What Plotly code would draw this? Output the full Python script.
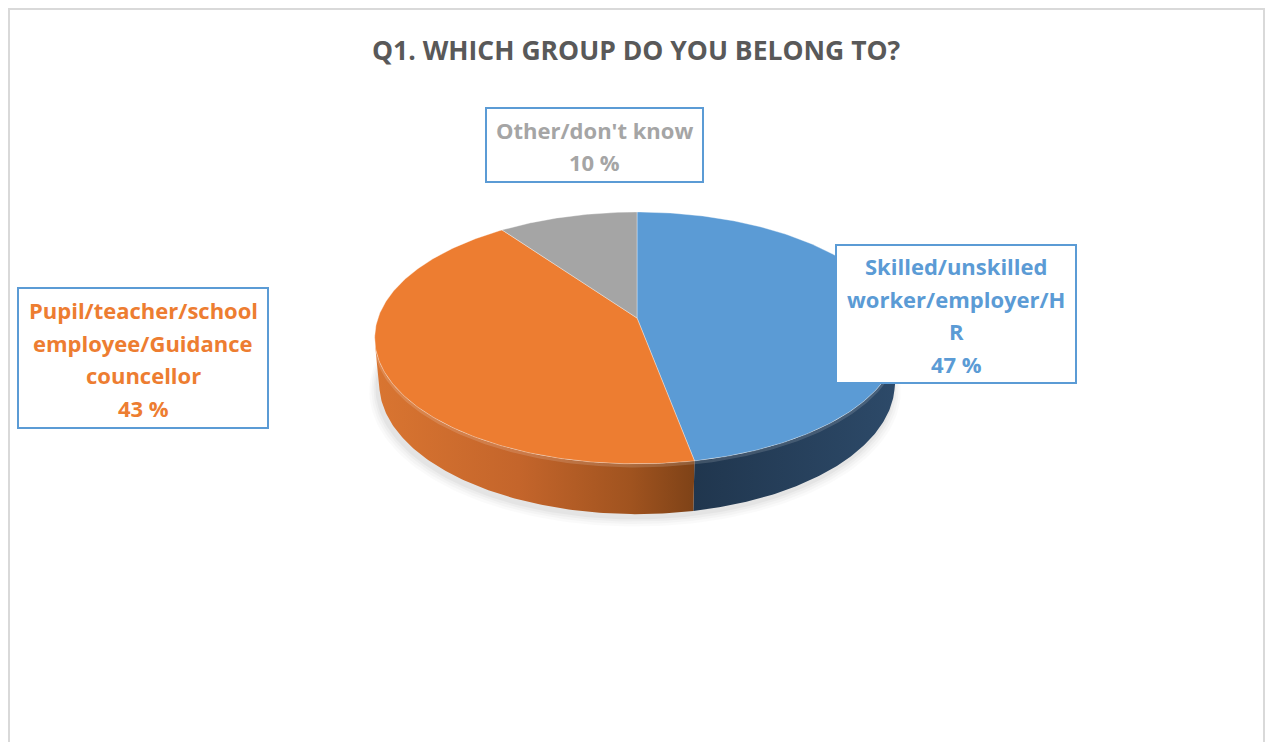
import numpy as np
import plotly.graph_objects as go

# ---- data -------------------------------------------------------------
title_text = "Q1. WHICH GROUP DO YOU BELONG TO?"
categories = [
    "Skilled/unskilled worker/employer/HR",
    "Pupil/teacher/school employee/Guidance councellor",
    "Other/don't know",
]
shares = [47, 43, 10]
# category names as wrapped inside the label boxes
label_wrapped = [
    ["Skilled/unskilled", "worker/employer/H", "R"],
    ["Pupil/teacher/school", "employee/Guidance", "councellor"],
    ["Other/don't know"],
]

# ---- styling ----------------------------------------------------------
W, H = 1267, 742
top_colors = ["#5B9BD5", "#ED7D31", "#A5A5A5"]
text_colors = ["#5B9BD5", "#ED7D31", "#A5A5A5"]
wall_scales = [
    [[0, "#20364E"], [1, "#2D4A69"]],
    [[0, "#D97531"], [0.45, "#C4652B"], [0.8, "#A0531F"], [1, "#7E4217"]],
    [[0, "#6E6E6E"], [1, "#5A5A5A"]],
]
FONT = "Open Sans"
# label boxes: (x0, y0, x1, y1) in page pixels, and line pitch
boxes = [(836, 245, 1076, 383), (18, 288, 268, 428), (486, 108, 703, 182)]
line_pitch = 32.5

# ---- 3D pie projection (perspective view of a tilted disc) -----------
CX, CY = 637.0, 318.0      # screen position of the pie centre
half_width = 259.0         # projected radius at mid-depth
tilt = np.radians(28.3)    # elevation of the viewpoint
persp = 0.18               # radius / camera distance
thick = 0.2                # disc thickness (in radii)
L = 1.0 / persp
Fp = half_width * L


def project(x, y, z):
    depth = L - y * np.sin(tilt) - z * np.cos(tilt)
    sx = CX + Fp * x / depth
    sy = CY - Fp * (y * np.cos(tilt) - z * np.sin(tilt)) / depth
    return sx, sy


def rim(theta_deg, y, r=1.0):
    t = np.radians(theta_deg)
    return project(r * np.sin(t), y * np.ones_like(t), -r * np.cos(t))


total = float(sum(shares))
bounds = np.concatenate([[0.0], np.cumsum(shares) / total * 360.0])

# visible part of the side wall (silhouette of the cylinder)
z_sil = 1.0 / (L * np.cos(tilt))
th_sil = np.degrees(np.arccos(-z_sil))
vis_lo, vis_hi = th_sil, 360.0 - th_sil

fig = go.Figure()

# soft shadow under the disc
full = np.linspace(0, 360, 241)
for r, dy, alpha in [(1.03, 7, 0.018), (1.022, 6, 0.022), (1.014, 5, 0.028), (1.007, 4, 0.035)]:
    sx_, sy_ = rim(full, -thick, r)
    fig.add_trace(go.Scatter(
        x=sx_ - 2, y=sy_ + dy, mode="lines", line=dict(width=0),
        fill="toself", fillcolor=f"rgba(0,0,0,{alpha})",
        hoverinfo="skip", showlegend=False,
    ))

# side walls
for i in range(len(shares)):
    a0, a1 = max(bounds[i], vis_lo), min(bounds[i + 1], vis_hi)
    if a1 <= a0:
        continue
    th = np.linspace(a0, a1, 120)
    tx, ty = rim(th, 0.0)
    bx, by = rim(th[::-1], -thick)
    xs = np.concatenate([tx, bx, tx[:1]])
    ys = np.concatenate([ty, by, ty[:1]])
    fig.add_trace(go.Scatter(
        x=xs, y=ys, mode="lines", line=dict(width=0),
        fill="toself",
        fillgradient=dict(type="horizontal", colorscale=wall_scales[i]),
        hoverinfo="skip", showlegend=False,
    ))
    # light rim along the upper edge of the wall
    fig.add_trace(go.Scatter(
        x=tx, y=ty + 2, mode="lines",
        line=dict(width=3, color="rgba(255,255,255,0.14)"),
        hoverinfo="skip", showlegend=False,
    ))

# top faces
for i in range(len(shares)):
    th = np.linspace(bounds[i], bounds[i + 1], 200)
    ax, ay = rim(th, 0.0)
    px, py = project(0.0, 0.0, 0.0)
    xs = np.concatenate([[px], ax, [px]])
    ys = np.concatenate([[py], ay, [py]])
    fig.add_trace(go.Scatter(
        x=xs, y=ys, mode="lines", line=dict(width=0.6, color="rgba(255,255,255,0.6)"),
        fill="toself", fillcolor=top_colors[i],
        name=categories[i], hoverinfo="name", showlegend=False,
    ))

# ---- labels -----------------------------------------------------------
shapes = [
    dict(type="rect", xref="x", yref="y", x0=9, y0=9, x1=1264, y1=760,
         line=dict(color="#D9D9D9", width=2), fillcolor="rgba(0,0,0,0)", layer="below"),
]
annotations = [
    dict(x=636, y=50, xref="x", yref="y", text=f"<b>{title_text}</b>",
         showarrow=False, xanchor="center", yanchor="middle",
         font=dict(family=FONT, size=26.5, color="#595959")),
]
for i in range(len(shares)):
    x0, y0, x1, y1 = boxes[i]
    shapes.append(dict(type="rect", xref="x", yref="y", x0=x0, y0=y0, x1=x1, y1=y1,
                       line=dict(color="#5B9BD5", width=2), fillcolor="white",
                       layer="above"))
    lines = label_wrapped[i] + [f"{shares[i]} %"]
    yc = (y0 + y1) / 2.0
    for k, txt in enumerate(lines):
        yk = yc + (k - (len(lines) - 1) / 2.0) * line_pitch
        annotations.append(dict(
            x=(x0 + x1) / 2.0, y=yk + 1, xref="x", yref="y", text=f"<b>{txt}</b>",
            showarrow=False, xanchor="center", yanchor="middle",
            font=dict(family=FONT, size=22, color=text_colors[i]),
        ))

fig.update_layout(
    width=W, height=H,
    margin=dict(l=0, r=0, t=0, b=0),
    paper_bgcolor="white", plot_bgcolor="white",
    xaxis=dict(range=[0, W], visible=False, fixedrange=True),
    yaxis=dict(range=[H, 0], visible=False, fixedrange=True),
    shapes=shapes, annotations=annotations,
)

fig.write_html("out.html")
